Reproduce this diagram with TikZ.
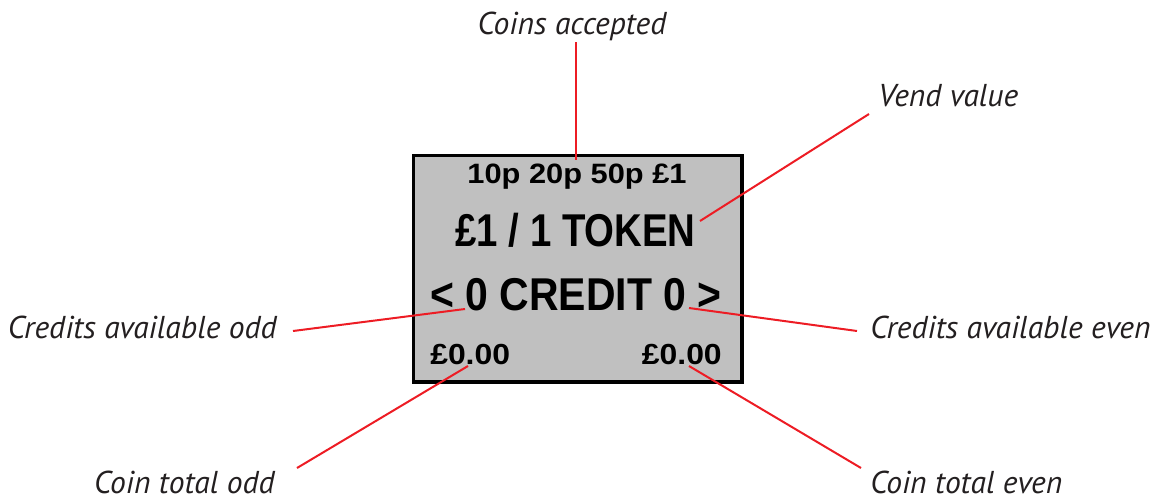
\documentclass[tikz,border=0pt]{standalone}
\usepackage{fontspec}
\usepackage{graphicx}
\newfontfamily\labfont{PT Sans}
\newfontfamily\lcdfont{Liberation Sans}
\definecolor{labgray}{HTML}{231F20}
\definecolor{callred}{HTML}{ED1C24}
\definecolor{lcdgray}{HTML}{C0C0C0}
\tikzset{
  lab/.style={inner sep=0pt, text=labgray, font=\labfont\itshape\fontsize{23.7pt}{27pt}\selectfont},
  lcd/.style={inner sep=0pt, anchor=base, text=black},
  callout/.style={draw=callred, line width=1.5pt},
  panel/.style={draw=black, line width=2.6pt, fill=lcdgray}
}
\begin{document}
\begin{tikzpicture}[x=0.75pt,y=-0.75pt]
\useasboundingbox (0,0) rectangle (1153,500);
% panel
\node[panel, minimum width=328.5*0.75pt, minimum height=226.5*0.75pt, inner sep=0pt, anchor=north west] (box) at (411.75,153.75) {};
% panel texts
\node[lcd] (coins) at (577,183) {\scalebox{1.1}[1]{\lcdfont\bfseries\fontsize{21pt}{24pt}\selectfont 10p 20p 50p £1}};
\node[lcd] (token) at (575.5,246) {\scalebox{0.834}[1]{\lcdfont\bfseries\fontsize{34.5pt}{40pt}\selectfont £1 / 1 TOKEN}};
\node[lcd] (credit) at (576,310) {\scalebox{0.89}[1]{\lcdfont\bfseries\fontsize{34.5pt}{40pt}\selectfont < 0 CREDIT 0 >}};
\node[lcd, anchor=base west] (totodd) at (430,364) {\scalebox{1.1}[1]{\lcdfont\bfseries\fontsize{21.75pt}{24pt}\selectfont £0.00}};
\node[lcd, anchor=base east] (toteven) at (722,364) {\scalebox{1.1}[1]{\lcdfont\bfseries\fontsize{21.75pt}{24pt}\selectfont £0.00}};
% labels
\node[lab, anchor=base] (lcoins) at (572,34) {Coins accepted};
\node[lab, anchor=base west] (lvend) at (878,106) {Vend value};
\node[lab, anchor=base east] (lcodd) at (277,338) {Credits available odd};
\node[lab, anchor=base west] (lceven) at (870,338) {Credits available even};
\node[lab, anchor=base east] (ltodd) at (275,493) {Coin total odd};
\node[lab, anchor=base west] (lteven) at (870,493) {Coin total even};
% callout ends
\coordinate (a1) at (576,42);  \coordinate (a2) at (576,160);
\coordinate (b1) at (869,114); \coordinate (b2) at (700,221);
\coordinate (c1) at (293,331); \coordinate (c2) at (465,309);
\coordinate (d1) at (857,331); \coordinate (d2) at (689,308);
\coordinate (e1) at (297,468); \coordinate (e2) at (468,366);
\coordinate (f1) at (861,468); \coordinate (f2) at (689,366);
\draw[callout] (a1) -- (a2);
\draw[callout] (b1) -- (b2);
\draw[callout] (c1) -- (c2);
\draw[callout] (d1) -- (d2);
\draw[callout] (e1) -- (e2);
\draw[callout] (f1) -- (f2);
\end{tikzpicture}
\end{document}
